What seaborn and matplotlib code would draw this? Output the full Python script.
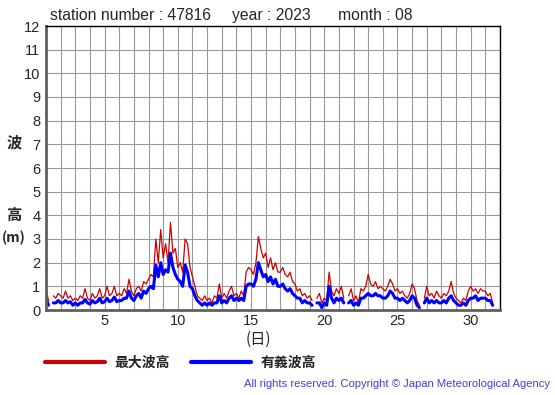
import numpy as np
import pandas as pd
import matplotlib
matplotlib.use("Agg")
import matplotlib.pyplot as plt
from matplotlib.lines import Line2D
import seaborn as sns

# =============================================================================
# DATA: 4-hourly wave heights (m) for August 2023, station 47816
# six readings per day (00, 04, 08, 12, 16, 20 h); nan = missing
# =============================================================================
STATION = "47816"
YEAR = "2023"
MONTH = "08"
DAYS_IN_MONTH = 31
STEPS_PER_DAY = 6

nan = np.nan
max_wave = [
    0.9, 0.4, nan, 0.6, 0.5, 0.7,   # 1
    0.6, 0.5, 0.8, 0.5, 0.6, 0.4,   # 2
    0.5, 0.4, 0.6, 0.5, 0.9, 0.5,   # 3
    0.4, 0.7, 0.5, 0.6, 0.9, 0.5,   # 4
    0.6, 1.0, 0.6, 0.7, 1.0, 0.6,   # 5
    0.7, 0.6, 0.9, 0.7, 1.3, 0.8,   # 6
    0.6, 0.9, 1.0, 0.8, 1.2, 1.1,   # 7
    1.3, 1.5, 1.4, 3.0, 2.0, 3.4,   # 8
    2.2, 2.8, 2.0, 3.7, 2.4, 2.6,   # 9
    1.8, 2.0, 1.6, 3.0, 2.8, 1.8,   # 10
    1.4, 1.0, 0.6, 0.5, 0.4, 0.6,   # 11
    0.4, 0.5, 0.3, 0.6, 0.5, 1.1,   # 12
    0.5, 0.7, 0.5, 0.8, 1.0, 0.6,   # 13
    0.7, 0.5, 0.8, 0.6, 1.6, 1.8,   # 14
    1.7, 1.5, 2.0, 3.1, 2.6, 2.2,   # 15
    2.4, 1.8, 2.2, 1.7, 2.0, 1.6,   # 16
    1.6, 1.8, 1.5, 1.4, 1.6, 1.2,   # 17
    1.1, 0.8, 0.9, 0.6, 0.7, 0.5,   # 18
    0.6, 0.4, nan, 0.5, 0.7, 0.3,   # 19
    0.5, 0.4, 1.6, 0.8, 0.6, 0.9,   # 20
    0.7, 1.0, 0.5, nan, 0.6, 0.9,   # 21
    0.4, 0.6, 0.3, 0.9, 0.8, 1.0,   # 22
    1.5, 1.1, 1.0, 1.2, 0.9, 1.0,   # 23
    0.9, 0.8, 1.0, 1.3, 1.1, 0.8,   # 24
    0.9, 0.7, 0.8, 0.6, 0.5, 0.7,   # 25
    1.1, 0.9, 0.4, 0.2, nan, 0.5,   # 26
    1.0, 0.6, 0.7, 0.5, 0.8, 0.6,   # 27
    0.5, 0.7, 0.6, 0.8, 1.2, 0.7,   # 28
    0.5, 0.4, 0.3, 0.5, 0.4, 0.8,   # 29
    1.0, 0.8, 0.9, 0.7, 0.9, 0.8,   # 30
    0.8, 0.6, 0.7, 0.3, nan, 0.3,   # 31
]
sig_wave = [
    0.5, 0.2, nan, 0.3, 0.3, 0.4,
    0.3, 0.3, 0.4, 0.3, 0.35, 0.2,
    0.3, 0.2, 0.3, 0.3, 0.45, 0.3,
    0.25, 0.4, 0.3, 0.35, 0.5, 0.3,
    0.35, 0.5, 0.35, 0.4, 0.55, 0.35,
    0.4, 0.4, 0.5, 0.5, 0.8, 0.5,
    0.4, 0.6, 0.7, 0.5, 0.8, 0.7,
    0.9, 1.0, 0.9, 1.9, 1.4, 2.0,
    1.5, 1.7, 1.6, 2.4, 1.8, 1.5,
    1.3, 1.2, 1.0, 1.9, 1.6, 1.0,
    0.9, 0.6, 0.4, 0.3, 0.2, 0.3,
    0.2, 0.3, 0.2, 0.3, 0.3, 0.6,
    0.3, 0.4, 0.3, 0.5, 0.6, 0.4,
    0.5, 0.4, 0.5, 0.4, 1.0, 1.1,
    1.1, 1.0, 1.3, 2.0, 1.7, 1.4,
    1.5, 1.2, 1.4, 1.1, 1.3, 1.0,
    1.0, 1.1, 0.9, 0.8, 0.9, 0.7,
    0.6, 0.5, 0.5, 0.3, 0.4, 0.3,
    0.3, 0.2, nan, 0.3, 0.3, 0.1,
    0.3, 0.2, 1.0, 0.5, 0.3, 0.5,
    0.4, 0.5, 0.3, nan, 0.3, 0.4,
    0.2, 0.3, 0.2, 0.5, 0.5, 0.6,
    0.7, 0.6, 0.6, 0.7, 0.6, 0.6,
    0.5, 0.5, 0.6, 0.8, 0.7, 0.5,
    0.5, 0.4, 0.5, 0.4, 0.3, 0.4,
    0.6, 0.5, 0.2, 0.1, nan, 0.3,
    0.5, 0.3, 0.4, 0.3, 0.4, 0.3,
    0.3, 0.4, 0.3, 0.5, 0.6, 0.4,
    0.3, 0.2, 0.2, 0.3, 0.2, 0.4,
    0.5, 0.5, 0.6, 0.4, 0.5, 0.5,
    0.5, 0.4, 0.4, 0.2, nan, 0.2,
]

x_ticks = [5, 10, 15, 20, 25, 30]
y_ticks = list(range(0, 13))

LABEL_MAX = "最大波高"
LABEL_SIG = "有義波高"
COLOR_MAX = "#cc0000"
COLOR_SIG = "#0000ff"

# time axis in days (day 1 00h .. day 31 20h)
day = 1 + np.arange(DAYS_IN_MONTH * STEPS_PER_DAY) / STEPS_PER_DAY


def to_frame(values):
    # split into runs so missing readings leave gaps in the line
    s = pd.Series(values, dtype=float)
    seg = s.isna().cumsum()
    df = pd.DataFrame({"day": day, "height": s, "seg": seg})
    return df.dropna()


df_max = to_frame(max_wave)
df_sig = to_frame(sig_wave)

# =============================================================================
# PLOT
# =============================================================================
sns.set_style("white")
plt.rcParams["font.family"] = ["Liberation Sans", "Noto Sans CJK JP", "DejaVu Sans"]

fig = plt.figure(figsize=(5.55, 3.95), dpi=100)
ax = fig.add_axes([46 / 555, 1 - 310 / 395, 454 / 555, 284 / 395])

sns.lineplot(data=df_max, x="day", y="height", units="seg", estimator=None,
             color=COLOR_MAX, lw=0.9, ax=ax)
sns.lineplot(data=df_sig, x="day", y="height", units="seg", estimator=None,
             color=COLOR_SIG, lw=2.2, ax=ax)

ax.set_xlim(1, DAYS_IN_MONTH + 1)
ax.set_ylim(0, 12)
ax.set_xticks(range(1, DAYS_IN_MONTH + 2), minor=True)
ax.set_xticks(x_ticks)
ax.set_yticks(y_ticks)
ax.set_xticklabels([str(t) for t in x_ticks], fontsize=10.5)
ax.set_yticklabels([str(t) for t in y_ticks], fontsize=10.5)
ax.tick_params(which="both", length=0)
ax.tick_params(axis="x", pad=3)
ax.tick_params(axis="y", pad=4)
ax.grid(which="both", color="#999999", lw=0.8)
ax.set_axisbelow(True)
ax.set_xlabel("")
ax.set_ylabel("")

for side in ["top", "right"]:
    ax.spines[side].set_color("black")
    ax.spines[side].set_linewidth(1)
for side in ["left", "bottom"]:
    ax.spines[side].set_color("#606060")
    ax.spines[side].set_linewidth(2)

# header
fig.text(50 / 555, 1 - 20 / 395, f"station number : {STATION}", fontsize=11.3, va="baseline")
fig.text(232 / 555, 1 - 20 / 395, f"year : {YEAR}", fontsize=11.3, va="baseline")
fig.text(338 / 555, 1 - 20 / 395, f"month : {MONTH}", fontsize=11.3, va="baseline")

# axis labels
cjk = ["Noto Sans CJK JP", "DejaVu Sans"]
fig.text(14 / 555, 1 - 142 / 395, "波", fontsize=11, fontweight="bold", family=cjk, ha="center", va="center")
fig.text(14 / 555, 1 - 215 / 395, "高", fontsize=11, fontweight="bold", family=cjk, ha="center", va="center")
fig.text(14 / 555, 1 - 238 / 395, "(m)", fontsize=10, fontweight="bold", family=cjk, ha="center", va="center")
fig.text(258 / 555, 1 - 339 / 395, "(日)", fontsize=11, family=cjk, ha="center", va="center")

# legend
handles = [Line2D([], [], color=COLOR_MAX, lw=3), Line2D([], [], color=COLOR_SIG, lw=3)]
fig.legend(handles, [LABEL_MAX, LABEL_SIG], loc="center left",
           bbox_to_anchor=(45 / 555, 1 - 363 / 395), ncol=2, frameon=False,
           borderpad=0, borderaxespad=0, handlelength=4.3, handletextpad=0.7,
           columnspacing=1.5, prop={"family": cjk, "size": 10, "weight": "bold"})

fig.text(550 / 555, 1 - 384 / 395, "All rights reserved. Copyright © Japan Meteorological Agency",
         fontsize=8.1, color="#4040dd", ha="right", va="center")

fig.savefig("out.png", dpi=100)
